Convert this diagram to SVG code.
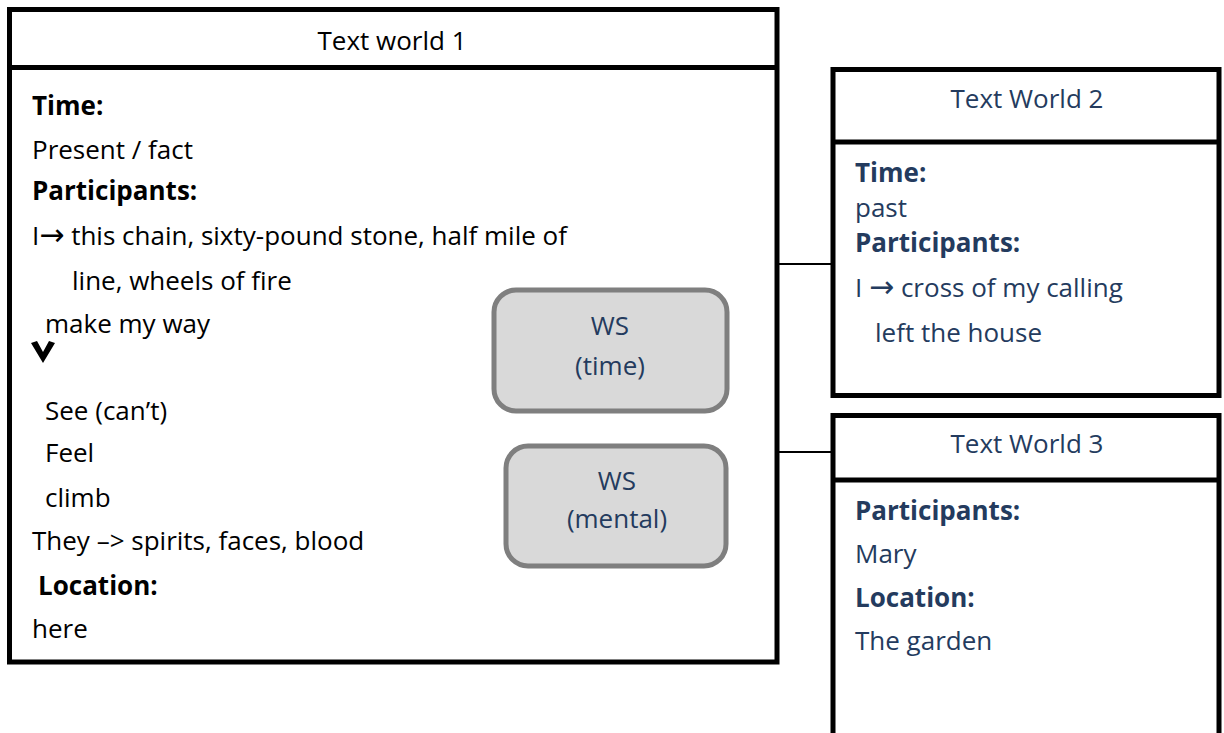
<svg xmlns="http://www.w3.org/2000/svg" width="1224" height="733" viewBox="0 0 1224 733">
  <style>
    .box { fill: #ffffff; stroke: #000000; stroke-width: 5; }
    .div { stroke: #000000; stroke-width: 5; }
    .ws { fill: #d9d9d9; stroke: #7f7f7f; stroke-width: 5; }
    .conn { stroke: #000000; stroke-width: 2; fill: none; }
    text { font-family: "Open Sans", "Liberation Sans", sans-serif; font-size: 26px; }
    .k { fill: #000000; }
    .b { font-weight: bold; }
    .blue { fill: #243b5e; }
    .mid { text-anchor: middle; }
    .arr { font-family: "DejaVu Sans", sans-serif; font-size: 30px; }
  </style>

  <rect width="1224" height="733" fill="#ffffff"/>

  <!-- connectors between worlds and sub-worlds -->
  <g id="connectors">
    <line class="conn" x1="777" y1="264" x2="832" y2="264"/>
    <line class="conn" x1="777" y1="452" x2="832" y2="452"/>
    <line class="conn" x1="727" y1="349" x2="777" y2="349"/>
    <line class="conn" x1="725" y1="505" x2="777" y2="505"/>
  </g>

  <!-- main text world -->
  <g id="text-world-1">
    <rect class="box" x="9.5" y="9.5" width="767.5" height="652.5"/>
    <line class="div" x1="9.5" y1="67.5" x2="777" y2="67.5"/>
    <text class="k mid" x="392" y="50">Text world 1</text>
    <text class="k b" x="32" y="115">Time:</text>
    <text class="k" x="32" y="159">Present / fact</text>
    <text class="k b" x="32" y="200">Participants:</text>
    <text class="k" x="32" y="245">I<tspan class="arr">→</tspan> this chain, sixty-pound stone, half mile of</text>
    <text class="k" x="72" y="290">line, wheels of fire</text>
    <text class="k" x="45" y="333">make my way</text>
    <polygon points="31,343 37,341 43,352 49,341 55,343 43,363" fill="#000000"/>
    <text class="k" x="45" y="420">See (can’t)</text>
    <text class="k" x="45" y="462">Feel</text>
    <text class="k" x="45" y="507">climb</text>
    <text class="k" x="32" y="550">They –&gt; spirits, faces, blood</text>
    <text class="k b" x="38" y="595">Location:</text>
    <text class="k" x="32" y="638">here</text>
  </g>

  <!-- world-switch: time -->
  <g id="ws-time">
    <rect class="ws" x="494" y="290" width="233" height="121" rx="22"/>
    <text class="blue mid" x="610" y="335">WS</text>
    <text class="blue mid" x="610" y="375">(time)</text>
  </g>

  <!-- world-switch: mental -->
  <g id="ws-mental">
    <rect class="ws" x="506" y="446" width="220" height="120" rx="22"/>
    <text class="blue mid" x="617" y="490">WS</text>
    <text class="blue mid" x="617" y="528">(mental)</text>
  </g>

  <!-- second text world -->
  <g id="text-world-2">
    <rect class="box" x="833" y="69.5" width="386" height="326"/>
    <line class="div" x1="833" y1="142" x2="1219" y2="142"/>
    <text class="blue mid" x="1027" y="108">Text World 2</text>
    <text class="blue b" x="855" y="182">Time:</text>
    <text class="blue" x="855" y="217">past</text>
    <text class="blue b" x="855" y="252">Participants:</text>
    <text class="blue" x="855" y="297">I <tspan class="arr">→</tspan> cross of my calling</text>
    <text class="blue" x="875" y="342">left the house</text>
  </g>

  <!-- third text world, running past the lower edge -->
  <g id="text-world-3">
    <rect class="box" x="833" y="415.5" width="386" height="330"/>
    <line class="div" x1="833" y1="480" x2="1219" y2="480"/>
    <text class="blue mid" x="1027" y="453">Text World 3</text>
    <text class="blue b" x="855" y="520">Participants:</text>
    <text class="blue" x="855" y="563">Mary</text>
    <text class="blue b" x="855" y="607">Location:</text>
    <text class="blue" x="855" y="650">The garden</text>
  </g>
</svg>
